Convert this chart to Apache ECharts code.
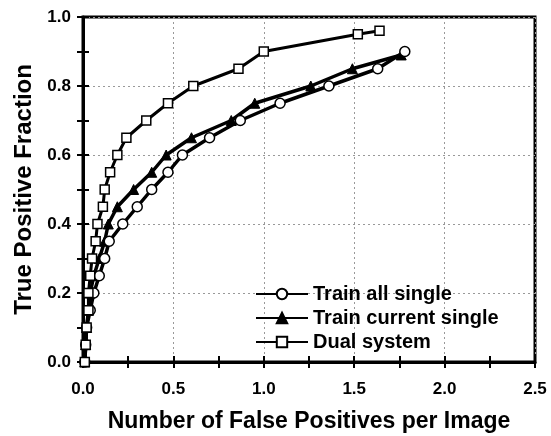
<!DOCTYPE html>
<html>
<head>
<meta charset="utf-8">
<script src="https://cdn.jsdelivr.net/npm/echarts@6/dist/echarts.min.js"></script>
<style>
  html, body { margin: 0; padding: 0; background: #fff; }
  #chart { width: 551px; height: 436px; }
</style>
</head>
<body>
<div id="chart"></div>
<script>
// 数据
var allSingleX = [0.01, 0.015, 0.02, 0.04, 0.06, 0.09, 0.12, 0.145, 0.22, 0.30, 0.38, 0.47, 0.55, 0.70, 0.87, 1.09, 1.36, 1.63, 1.78];
var allSingleY = [0.0, 0.05, 0.10, 0.15, 0.20, 0.25, 0.30, 0.35, 0.40, 0.45, 0.50, 0.55, 0.60, 0.65, 0.70, 0.75, 0.80, 0.85, 0.90];
var curSingleX = [0.01, 0.015, 0.02, 0.03, 0.04, 0.06, 0.09, 0.12, 0.14, 0.19, 0.28, 0.38, 0.46, 0.60, 0.82, 0.95, 1.26, 1.49, 1.76];
var curSingleY = [0.0, 0.05, 0.10, 0.15, 0.20, 0.25, 0.30, 0.35, 0.40, 0.45, 0.50, 0.55, 0.60, 0.65, 0.70, 0.75, 0.80, 0.85, 0.89];
var dualX = [0.01, 0.015, 0.02, 0.03, 0.03, 0.04, 0.05, 0.07, 0.08, 0.11, 0.12, 0.15, 0.19, 0.24, 0.35, 0.47, 0.61, 0.86, 1.0, 1.52, 1.64];
var dualY = [0.0, 0.05, 0.10, 0.15, 0.20, 0.25, 0.30, 0.35, 0.40, 0.45, 0.50, 0.55, 0.60, 0.65, 0.70, 0.75, 0.80, 0.85, 0.90, 0.95, 0.96];
var seriesNames = ['Train all single', 'Train current single', 'Dual system'];

function pairs(xs, ys) {
    return xs.map(function (x, i) { return [x, ys[i]]; });
}

var font = 'Liberation Sans, Arial, Helvetica, sans-serif';
var myChart = echarts.init(document.getElementById('chart'));

var tickStyle = { show: true, inside: true, length: 6, lineStyle: { color: '#000', width: 2 } };
var minorStyle = { show: true, splitNumber: 2, length: 6, lineStyle: { color: '#000', width: 2 } };

var option = {
    animation: false,
    backgroundColor: '#fff',
    grid: {
        left: 83, right: 16, top: 17, bottom: 74,
        containLabel: false,
        outerBoundsMode: 'none',
        show: true, borderColor: '#000', borderWidth: 3, backgroundColor: 'transparent'
    },
    legend: {
        orient: 'vertical',
        left: 250,
        top: 279,
        itemWidth: 52,
        itemHeight: 13,
        itemGap: 4,
        data: seriesNames,
        textStyle: { fontFamily: font, fontWeight: 'bold', fontSize: 20, color: '#000' }
    },
    xAxis: [{
        type: 'value',
        min: 0, max: 2.5, interval: 0.5,
        name: 'Number of False Positives per Image',
        nameLocation: 'middle',
        nameGap: 48,
        nameTextStyle: { fontFamily: font, fontWeight: 'bold', fontSize: 23, color: '#000' },
        axisLine: { show: true, lineStyle: { color: '#000', width: 3 } },
        axisTick: tickStyle,
        minorTick: minorStyle,
        axisLabel: {
            fontFamily: font, fontWeight: 'bold', fontSize: 17, color: '#000', margin: 19,
            formatter: function (v) { return v.toFixed(1); }
        },
        splitLine: { show: true, lineStyle: { color: '#999', type: [2, 3], width: 1 } }
    }, {
        type: 'value', position: 'top',
        min: 0, max: 2.5, interval: 0.5,
        axisLine: { show: false },
        axisTick: tickStyle,
        minorTick: minorStyle,
        axisLabel: { show: false },
        splitLine: { show: false }
    }],
    yAxis: [{
        type: 'value',
        min: 0, max: 1, interval: 0.2,
        name: 'True Positive Fraction',
        nameLocation: 'middle',
        nameGap: 47,
        nameTextStyle: { fontFamily: font, fontWeight: 'bold', fontSize: 24, color: '#000' },
        axisLine: { show: true, lineStyle: { color: '#000', width: 3 } },
        axisTick: tickStyle,
        minorTick: minorStyle,
        axisLabel: {
            fontFamily: font, fontWeight: 'bold', fontSize: 17, color: '#000', margin: 12,
            formatter: function (v) { return v.toFixed(1); }
        },
        splitLine: { show: true, lineStyle: { color: '#999', type: [2, 3], width: 1 } }
    }, {
        type: 'value', position: 'right',
        min: 0, max: 1, interval: 0.2,
        axisLine: { show: false },
        axisTick: tickStyle,
        minorTick: minorStyle,
        axisLabel: { show: false },
        splitLine: { show: false }
    }],
    series: [{
        name: seriesNames[0],
        type: 'line',
        data: pairs(allSingleX, allSingleY),
        symbol: 'circle',
        symbolSize: 10,
        showAllSymbol: true,
        lineStyle: { color: '#000', width: 3.5 },
        itemStyle: { color: '#fff', borderColor: '#000', borderWidth: 1.5 },
        z: 3
    }, {
        name: seriesNames[1],
        type: 'line',
        data: pairs(curSingleX, curSingleY),
        symbol: 'triangle',
        symbolSize: 10,
        showAllSymbol: true,
        lineStyle: { color: '#000', width: 3.5 },
        itemStyle: { color: '#000', borderColor: '#000', borderWidth: 1 },
        z: 2
    }, {
        name: seriesNames[2],
        type: 'line',
        data: pairs(dualX, dualY),
        symbol: 'rect',
        symbolSize: 9,
        showAllSymbol: true,
        lineStyle: { color: '#000', width: 3 },
        itemStyle: { color: '#fff', borderColor: '#000', borderWidth: 1.5 },
        z: 4
    }]
};

myChart.setOption(option);
</script>
</body>
</html>
